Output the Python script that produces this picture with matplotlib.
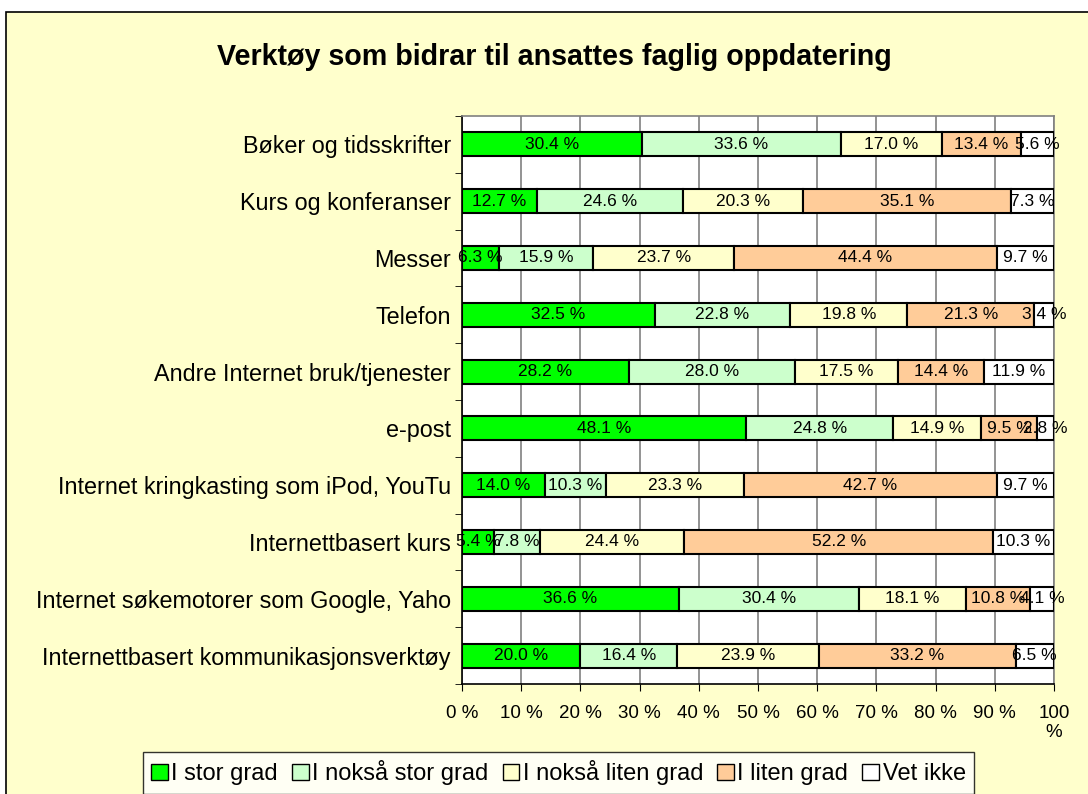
import matplotlib
matplotlib.use("Agg")
import matplotlib.pyplot as plt
from matplotlib.patches import Rectangle, Patch
import numpy as np

plt.rcParams['font.family'] = ['Liberation Sans', 'DejaVu Sans']

title = "Verktøy som bidrar til ansattes faglig oppdatering"
categories = [
    "Bøker og tidsskrifter",
    "Kurs og konferanser",
    "Messer",
    "Telefon",
    "Andre Internet bruk/tjenester",
    "e-post",
    "Internet kringkasting som iPod, YouTu",
    "Internettbasert kurs",
    "Internet søkemotorer som Google, Yaho",
    "Internettbasert kommunikasjonsverktøy",
]
series_names = ["I stor grad", "I nokså stor grad", "I nokså liten grad", "I liten grad", "Vet ikke"]
stor_grad        = [30.4, 12.7, 6.3, 32.5, 28.2, 48.1, 14.0, 5.4, 36.6, 20.0]
noksaa_stor_grad = [33.6, 24.6, 15.9, 22.8, 28.0, 24.8, 10.3, 7.8, 30.4, 16.4]
noksaa_liten     = [17.0, 20.3, 23.7, 19.8, 17.5, 14.9, 23.3, 24.4, 18.1, 23.9]
liten_grad       = [13.4, 35.1, 44.4, 21.3, 14.4, 9.5, 42.7, 52.2, 10.8, 33.2]
vet_ikke         = [5.6, 7.3, 9.7, 3.4, 11.9, 2.8, 9.7, 10.3, 4.1, 6.5]
x_ticklabels = ["0 %", "10 %", "20 %", "30 %", "40 %", "50 %", "60 %", "70 %", "80 %", "90 %", "100\n%"]

colors = ["#00FF00", "#CCFFCC", "#FFFFCC", "#FFCC99", "#FFFFFF"]
bg = "#FFFFCC"

data = np.array([stor_grad, noksaa_stor_grad, noksaa_liten, liten_grad, vet_ikke])
totals = data.sum(axis=0)
shares = data / totals * 100.0

fig = plt.figure(figsize=(10.88, 7.94), dpi=100)
fig.patch.set_facecolor("white")
fig.patches.append(Rectangle((6/1088, -0.1), 1.2, (794-12)/794 + 0.1, transform=fig.transFigure,
                             facecolor=bg, edgecolor="black", linewidth=1.2, zorder=-10))

ax = fig.add_axes([462/1088, (794-684)/794, (1054-462)/1088, (684-116)/794])
ax.set_facecolor("white")

y = np.arange(len(categories))
left = np.zeros(len(categories))
handles = []
for i in range(len(series_names)):
    ax.barh(y, shares[i], left=left, height=0.42, color=colors[i], edgecolor="black",
            linewidth=1.5, zorder=3)
    for j in range(len(categories)):
        ax.text(left[j] + shares[i][j] / 2, y[j], f"{data[i][j]:.1f} %", ha="center", va="center",
                fontsize=12.5, zorder=4, color="black")
    left += shares[i]
    handles.append(Patch(facecolor=colors[i], edgecolor="black", linewidth=1.0))

ax.set_xlim(0, 100)
ax.set_ylim(len(categories) - 0.5, -0.5)
ax.set_xticks(np.arange(0, 101, 10))
ax.set_xticklabels(x_ticklabels, fontsize=13.5, linespacing=1.2)
ax.set_yticks(y)
ax.set_yticklabels(categories, fontsize=16.8)
ax.set_yticks(np.arange(-0.5, len(categories), 1), minor=True)
ax.tick_params(axis="y", which="major", length=0, pad=8)
ax.tick_params(axis="y", which="minor", length=5, direction="out", color="black")
ax.tick_params(axis="x", length=5, direction="out", pad=10, color="black")
ax.grid(axis="x", color="#808080", linewidth=1.2, zorder=1)
ax.set_axisbelow(True)
for s in ["top", "right"]:
    ax.spines[s].set_color("#808080")
    ax.spines[s].set_linewidth(1.2)
for s in ["left", "bottom"]:
    ax.spines[s].set_color("black")
    ax.spines[s].set_linewidth(1.2)

fig.text(554/1088, 1 - 57/794, title, ha="center", va="center", fontsize=20.6, fontweight="bold")

leg = fig.legend(handles, series_names, loc="upper left", bbox_to_anchor=(143/1088, 1 - 752/794),
                 ncol=5, fontsize=17, frameon=True, fancybox=False, edgecolor="black",
                 handlelength=0.7, handleheight=0.7, handletextpad=0.15, columnspacing=0.6,
                 borderpad=0.35, borderaxespad=0)
leg.get_frame().set_linewidth(1.0)
leg.get_frame().set_facecolor("white")

fig.savefig("out.png", dpi=100, facecolor=fig.get_facecolor())
